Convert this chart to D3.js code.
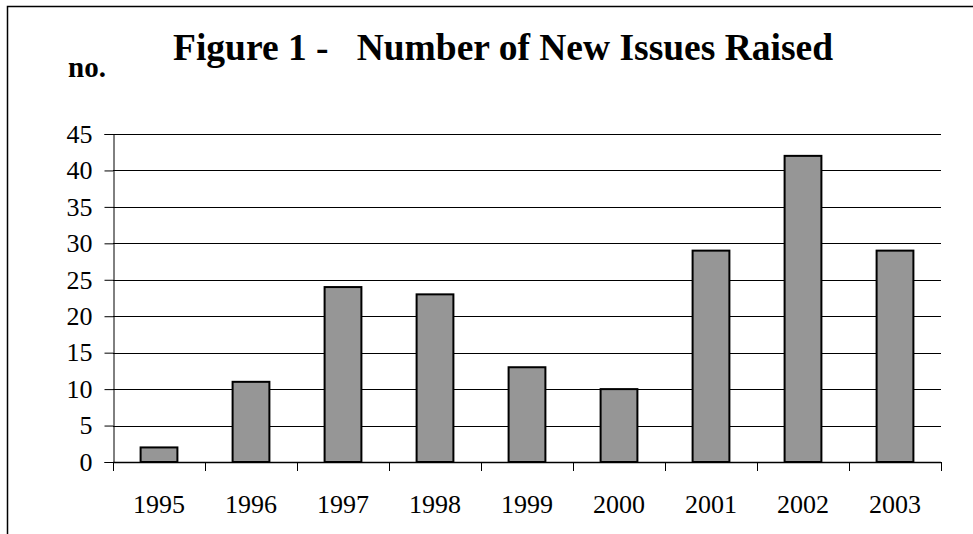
<!DOCTYPE html>
<html>
<head>
<meta charset="utf-8">
<script src="https://cdn.jsdelivr.net/npm/d3@7"></script>
<style>
  html, body { margin: 0; padding: 0; background: #fff; }
  svg { display: block; font-family: "Liberation Serif", "Times New Roman", serif; }
</style>
</head>
<body>
<div id="chart"></div>
<script>
const years = ['1995', '1996', '1997', '1998', '1999', '2000', '2001', '2002', '2003'];
const issues = [2, 11, 24, 23, 13, 10, 29, 42, 29];
const yTicks = [0, 5, 10, 15, 20, 25, 30, 35, 40, 45];

(function() {
  'use strict';

  const width = 973,
        height = 534,
        plot = { left: 113, right: 941, top: 134, bottom: 462 };

  const svg = d3.select('#chart')
    .append('svg')
    .attr('width', width)
    .attr('height', height);

  // outer frame (only the top and left edges are in view)
  svg.append('path')
    .attr('d', `M7.5,${height + 2} V6.5 H${width + 2}`)
    .attr('fill', 'none')
    .attr('stroke', '#000')
    .attr('stroke-width', 1.5);

  svg.append('text')
    .attr('x', 173)
    .attr('y', 60)
    .attr('font-size', 37.5)
    .attr('font-weight', 'bold')
    .attr('xml:space', 'preserve')
    .style('white-space', 'pre')
    .text('Figure 1 -   Number of New Issues Raised');

  svg.append('text')
    .attr('x', 68)
    .attr('y', 77)
    .attr('font-size', 29)
    .attr('font-weight', 'bold')
    .text('no.');

  const x = d3.scaleBand()
    .domain(years)
    .range([plot.left, plot.right])
    .paddingInner(0.6)
    .paddingOuter(0.3);

  const y = d3.scaleLinear()
    .domain([0, 45])
    .range([plot.bottom, plot.top]);

  // gridlines
  svg.append('g')
    .selectAll('line')
    .data(yTicks.filter(d => d > 0))
    .join('line')
    .attr('x1', plot.left)
    .attr('x2', plot.right)
    .attr('y1', d => Math.round(y(d)) + 0.5)
    .attr('y2', d => Math.round(y(d)) + 0.5)
    .attr('stroke', '#000')
    .attr('stroke-width', 1);

  // y axis
  const yAxis = svg.append('g')
    .attr('transform', `translate(${plot.left + 0.5},0)`)
    .call(d3.axisLeft(y).tickValues(yTicks).tickSize(9).tickPadding(12));
  yAxis.select('.domain').attr('stroke', '#000');
  yAxis.selectAll('.tick line').attr('stroke', '#000');
  yAxis.selectAll('text')
    .attr('font-size', 26)
    .attr('font-family', '"Liberation Serif", "Times New Roman", serif')
    .attr('fill', '#000');

  // bars
  svg.append('g')
    .selectAll('rect')
    .data(issues)
    .join('rect')
    .attr('x', (d, i) => x(years[i]))
    .attr('y', d => y(d))
    .attr('width', x.bandwidth())
    .attr('height', d => y(0) - y(d))
    .attr('fill', '#969696')
    .attr('stroke', '#000')
    .attr('stroke-width', 2);

  // x axis: ticks sit between categories
  const step = x.step(),
        bounds = d3.range(years.length + 1).map(i => plot.left + i * step);

  svg.append('line')
    .attr('x1', plot.left)
    .attr('x2', plot.right)
    .attr('y1', plot.bottom + 0.5)
    .attr('y2', plot.bottom + 0.5)
    .attr('stroke', '#000')
    .attr('stroke-width', 1.5);

  svg.append('g')
    .selectAll('line')
    .data(bounds)
    .join('line')
    .attr('x1', d => Math.round(d) + 0.5)
    .attr('x2', d => Math.round(d) + 0.5)
    .attr('y1', plot.bottom)
    .attr('y2', plot.bottom + 9)
    .attr('stroke', '#000');

  svg.append('g')
    .selectAll('text')
    .data(years)
    .join('text')
    .attr('x', d => x(d) + x.bandwidth() / 2)
    .attr('y', 513)
    .attr('text-anchor', 'middle')
    .attr('font-size', 26)
    .text(d => d);
})();
</script>
</body>
</html>
